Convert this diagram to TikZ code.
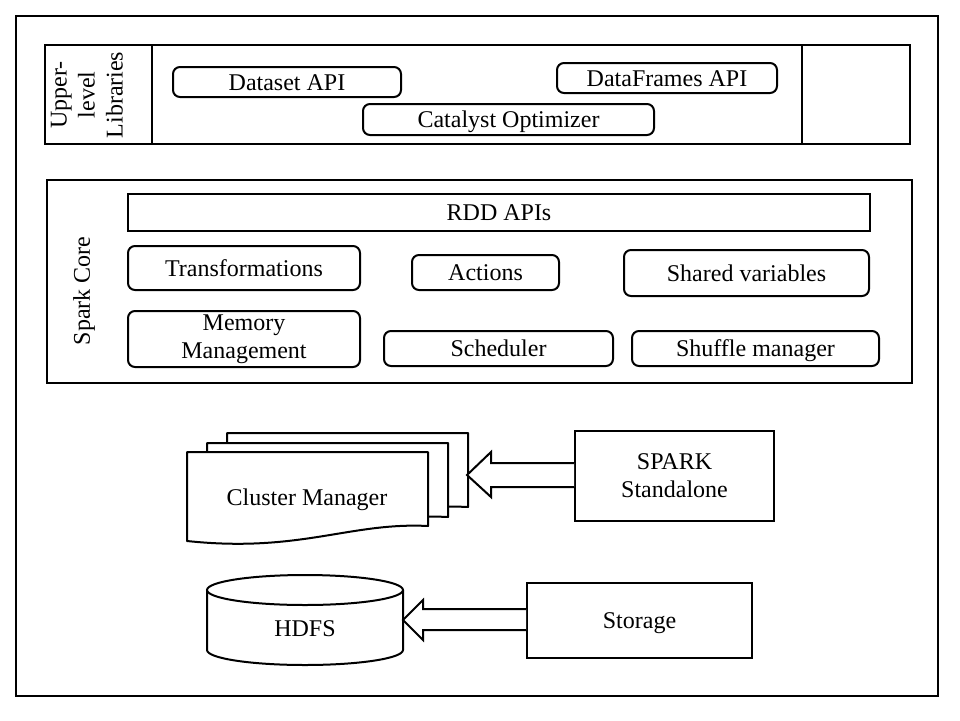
\documentclass[tikz,border=0pt]{standalone}
\usepackage{fontspec}
\setmainfont{Liberation Serif}
\begin{document}
\begin{tikzpicture}[x=1pt,y=-1pt, line width=2pt,
  box/.style={draw, rectangle, line width=2pt, inner sep=0pt},
  rbox/.style={draw, rectangle, rounded corners=7pt, line width=2pt, inner sep=0pt,
    font=\fontsize{24}{28}\selectfont, align=center},
  lbl/.style={font=\fontsize{24}{28}\selectfont, align=center, inner sep=0pt},
  sl/.style={text height=16pt, text depth=0pt},
  doc/.style={draw, fill=white, line width=2pt, line join=round},
  blockarrow/.style={draw, fill=white, line width=2pt, line join=miter}]

\useasboundingbox (0,0) rectangle (960,720);
\fill[white] (0,0) rectangle (960,720);

% outer frame
\node[box, minimum width=922pt, minimum height=680pt] (outer) at (477,356) {};

% Upper-level libraries
\node[box, minimum width=865pt, minimum height=99pt] (upper) at (477.5,94.5) {};
\coordinate (d1t) at (152,45); \coordinate (d1b) at (152,144);
\coordinate (d2t) at (802,45); \coordinate (d2b) at (802,144);
\draw (d1t) -- (d1b);
\draw (d2t) -- (d2b);
\node[lbl, rotate=90] (upperlbl) at (87,95) {Upper-\\level\\Libraries};
\node[rbox, sl, minimum width=228pt, minimum height=30pt] (dataset) at (287,82) {Dataset API};
\node[rbox, sl, minimum width=220pt, minimum height=30pt] (dataframes) at (667,78) {DataFrames API};
\node[rbox, sl, minimum width=291pt, minimum height=31pt] (catalyst) at (508.5,119.5) {Catalyst Optimizer};

% Spark Core
\node[box, minimum width=865pt, minimum height=203pt] (core) at (479.5,281.5) {};
\node[lbl, rotate=90] (corelbl) at (84,291) {Spark Core};
\node[box, lbl, sl, minimum width=742pt, minimum height=37pt] (rdd) at (499,212.5) {RDD APIs};
\node[rbox, sl, minimum width=232pt, minimum height=44pt] (trans) at (244,268) {Transformations};
\node[rbox, sl, minimum width=147pt, minimum height=35pt] (actions) at (485.5,272.5) {Actions};
\node[rbox, sl, minimum width=245pt, minimum height=46pt] (shared) at (746.5,273) {Shared variables};
\node[rbox, minimum width=232pt, minimum height=56pt] (memory) at (244,339) {Memory\\Management};
\node[rbox, sl, minimum width=229pt, minimum height=35pt] (sched) at (498.5,348.5) {Scheduler};
\node[rbox, sl, minimum width=247pt, minimum height=35pt] (shuffle) at (755.5,348.5) {Shuffle manager};

% Cluster manager (stacked documents)
\foreach \dx/\dy in {40/-19, 20/-9, 0/0}{
  \draw[doc, shift={(\dx,\dy)}] (187,452) -- (428,452) -- (428,526)
    .. controls (350,522) and (300,553) .. (187,541) -- cycle;
}
\node[lbl, sl] (cm) at (307,497) {Cluster Manager};
\coordinate (cmtip) at (467,475);

\node[box, lbl, minimum width=199pt, minimum height=90pt] (spark) at (674.5,476) {SPARK\\Standalone};

% block arrow spark -> cluster manager
\draw[blockarrow] (spark.west |- 0,463) -- (491,463) -- (491,452) -- (cmtip)
  -- (491,497) -- (491,487) -- (spark.west |- 0,487);

% HDFS cylinder
\coordinate (hdfstip) at (403,620);
\draw[fill=white] (207,590) -- (207,650) arc[start angle=180, end angle=360, x radius=98pt, y radius=15pt]
  -- (403,590);
\draw[fill=white] (305,590) ellipse[x radius=98pt, y radius=15pt];
\node[lbl, sl] (hdfs) at (305,628) {HDFS};

\node[box, lbl, sl, minimum width=225pt, minimum height=75pt] (storage) at (639.5,620) {Storage};

% block arrow storage -> hdfs
\draw[blockarrow] (storage.west |- 0,609) -- (423,609) -- (423,600) -- (hdfstip)
  -- (423,640) -- (423,630) -- (storage.west |- 0,630);

\end{tikzpicture}
\end{document}
